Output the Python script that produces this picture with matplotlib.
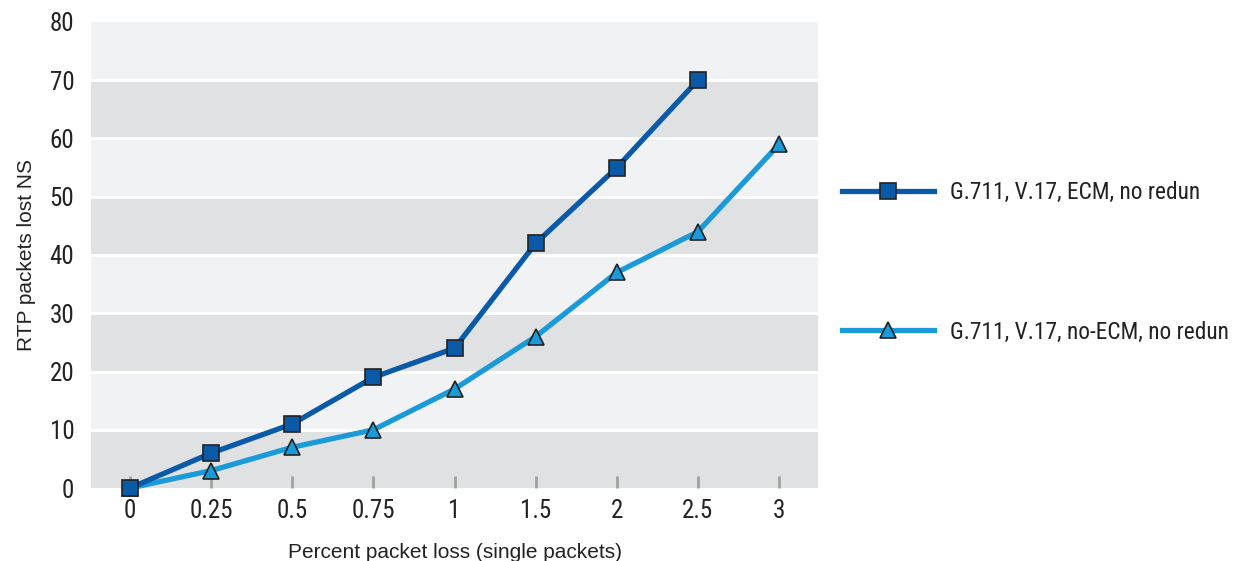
import matplotlib.pyplot as plt
import numpy as np

plt.rcParams['font.family'] = ['Roboto Condensed', 'DejaVu Sans']

# Data
loss_labels = ['0', '0.25', '0.5', '0.75', '1', '1.5', '2', '2.5', '3']
ecm = [0, 6, 11, 19, 24, 42, 55, 70]
no_ecm = [0, 3, 7, 10, 17, 26, 37, 44, 59]

dark_blue = '#0a5aa8'
light_blue = '#1a9ad8'

fig = plt.figure(figsize=(12.37, 5.61), dpi=100)
ax = fig.add_axes([0.0736, 0.130, 0.5877, 0.831])

# alternating background bands
for i, lo in enumerate(range(0, 80, 10)):
    col = '#e0e1e3' if i % 2 == 0 else '#f1f2f4'
    ax.axhspan(lo, lo + 10, color=col, lw=0, zorder=0)
for y in range(10, 80, 10):
    ax.axhline(y, color='white', lw=2.2, zorder=1)

ax.plot(range(len(ecm)), ecm, color=dark_blue, lw=3.8, marker='s', ms=12,
        mfc=dark_blue, mec='#222222', mew=1.2, zorder=4, clip_on=False,
        label='G.711, V.17, ECM, no redun')
ax.plot(range(len(no_ecm)), no_ecm, color=light_blue, lw=3.8, marker='^', ms=12,
        mfc=light_blue, mec='#222222', mew=1.2, zorder=3, clip_on=False,
        label='G.711, V.17, no-ECM, no redun')

ax.set_xlim(-0.48, 8.48)
ax.set_ylim(0, 80)
ax.set_xticks(range(len(loss_labels)))
ax.set_xticklabels(loss_labels)
ax.set_yticks(range(0, 81, 10))

for s in ax.spines.values():
    s.set_visible(False)

ax.tick_params(axis='x', direction='in', length=8.5, width=2, color='#a0a0a0',
               labelsize=18, pad=8, labelcolor='#222222')
ax.tick_params(axis='y', length=0, labelsize=18, pad=12, labelcolor='#222222')

# axis titles are in a plain (non-condensed) sans
ax.set_xlabel('Percent packet loss (single packets)', fontsize=15, labelpad=14,
              color='#222222', family=['Liberation Sans', 'DejaVu Sans'])
ax.set_ylabel('RTP packets lost NS', fontsize=15, labelpad=10,
              color='#222222', family=['Liberation Sans', 'DejaVu Sans'])

fig.legend(loc='upper left', bbox_to_anchor=(0.6635, 0.715), frameon=False,
           fontsize=16.8, handlelength=3.95, labelspacing=5.0, handletextpad=0.7,
           labelcolor='#222222')

plt.savefig('out.png', dpi=100)
